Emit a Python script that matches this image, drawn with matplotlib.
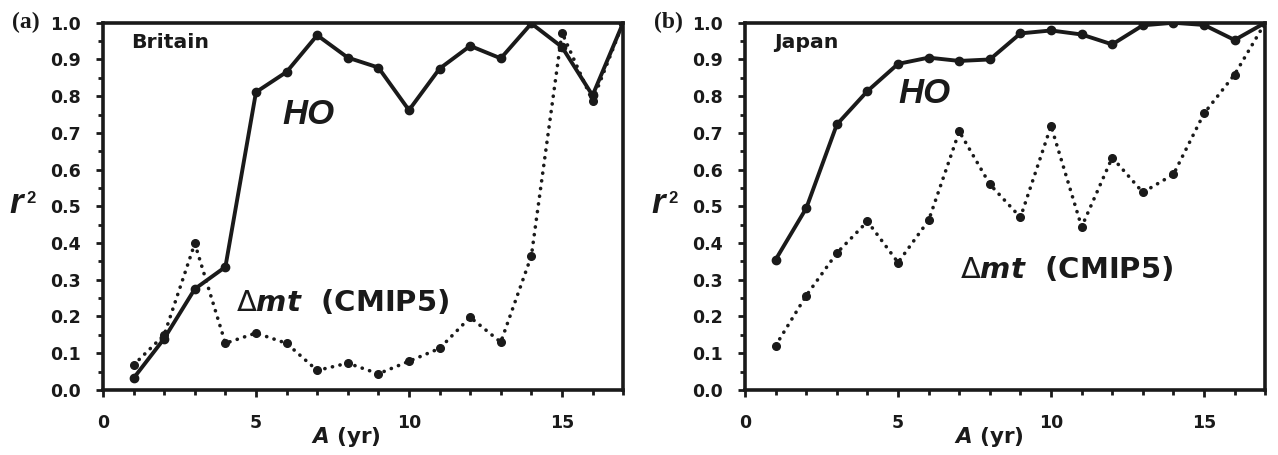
import matplotlib
matplotlib.use("Agg")
import matplotlib.pyplot as plt
from matplotlib.ticker import MultipleLocator, FormatStrFormatter

plt.rcParams['font.family'] = ['DejaVu Sans']
plt.rcParams['mathtext.fontset'] = 'custom'
plt.rcParams['mathtext.it'] = 'DejaVu Sans:bold:italic'
plt.rcParams['mathtext.rm'] = 'DejaVu Sans'
plt.rcParams['mathtext.bf'] = 'DejaVu Sans:bold'

# averaging window A (yr)
years = list(range(1, 18))

# Britain
britain_ho = [0.032, 0.14, 0.275, 0.335, 0.811, 0.866, 0.966, 0.905, 0.878, 0.762,
              0.875, 0.937, 0.903, 0.998, 0.934, 0.802, 1.0]
britain_mt = [0.068, 0.15, 0.399, 0.127, 0.155, 0.127, 0.053, 0.073, 0.044, 0.078,
              0.113, 0.198, 0.13, 0.365, 0.973, 0.787, 1.0]

# Japan
japan_ho = [0.355, 0.495, 0.723, 0.814, 0.888, 0.905, 0.896, 0.900, 0.971, 0.979,
            0.968, 0.941, 0.993, 1.0, 0.994, 0.953, 1.0]
japan_mt = [0.121, 0.257, 0.373, 0.459, 0.347, 0.462, 0.704, 0.56, 0.47, 0.719,
            0.444, 0.633, 0.538, 0.587, 0.753, 0.859, 1.0]

panels = [
    ('(a)', 'Britain', britain_ho, britain_mt, (5.85, 0.75), (4.35, 0.237)),
    ('(b)', 'Japan', japan_ho, japan_mt, (5.0, 0.807), (7.03, 0.327)),
]

ink = '#1a1a1a'
fig = plt.figure(figsize=(12.78, 4.55), dpi=100)
lefts = [0.0806, 0.583]
width = 0.407

for i, (tag, place, ho, mt, ho_pos, mt_pos) in enumerate(panels):
    ax = fig.add_axes([lefts[i], 0.143, width, 0.807])
    ax.plot(years, mt, color=ink, linewidth=2.6, linestyle=(0, (0.05, 2.1)),
            dash_capstyle='round', marker='o', markersize=5.5, zorder=3)
    ax.plot(years, ho, color=ink, linewidth=2.8, marker='o', markersize=6,
            zorder=4)

    ax.set_xlim(0, 17)
    ax.set_ylim(0, 1.0)
    ax.xaxis.set_major_locator(MultipleLocator(5))
    ax.xaxis.set_minor_locator(MultipleLocator(1))
    ax.yaxis.set_major_locator(MultipleLocator(0.1))
    ax.yaxis.set_minor_locator(MultipleLocator(0.05))
    ax.yaxis.set_major_formatter(FormatStrFormatter('%.1f'))
    ax.tick_params(which='major', direction='out', length=5, width=2, labelsize=12.5,
                   colors=ink)
    ax.tick_params(axis='y', which='major', pad=11)
    ax.tick_params(axis='x', which='major', pad=12)
    ax.tick_params(which='minor', direction='out', length=3.5, width=2, colors=ink)
    for lab in ax.get_xticklabels() + ax.get_yticklabels():
        lab.set_fontweight('bold')
    for s in ax.spines.values():
        s.set_linewidth(2.6)
        s.set_color(ink)

    ax.set_xlabel(r'$A$ (yr)', fontsize=15.5, fontweight='bold', color=ink)
    ax.xaxis.set_label_coords(0.468, -0.095)

    # r^2 axis label
    ax.text(-0.180, 0.482, 'r', transform=ax.transAxes, fontsize=25,
            family='Liberation Sans', fontweight='bold', style='italic',
            va='baseline', color=ink)
    ax.text(-0.148, 0.508, '2', transform=ax.transAxes, fontsize=12,
            family='Liberation Sans', fontweight='bold', va='baseline', color=ink)

    ax.text(0.055, 0.945, place, transform=ax.transAxes, fontsize=14.7,
            fontweight='bold', va='center', color=ink)
    ax.text(ho_pos[0], ho_pos[1], 'HO', fontsize=25, family='Liberation Sans',
            fontweight='bold', style='italic', va='center', color=ink)
    ax.text(mt_pos[0], mt_pos[1], r'$\Delta mt$  (CMIP5)', fontsize=21,
            fontweight='bold', va='center', color=ink)
    ax.text(-0.175, 1.0, tag, transform=ax.transAxes, fontsize=17,
            fontweight='bold', family='Liberation Serif', va='center', color=ink)

fig.savefig('out.png', dpi=100)
